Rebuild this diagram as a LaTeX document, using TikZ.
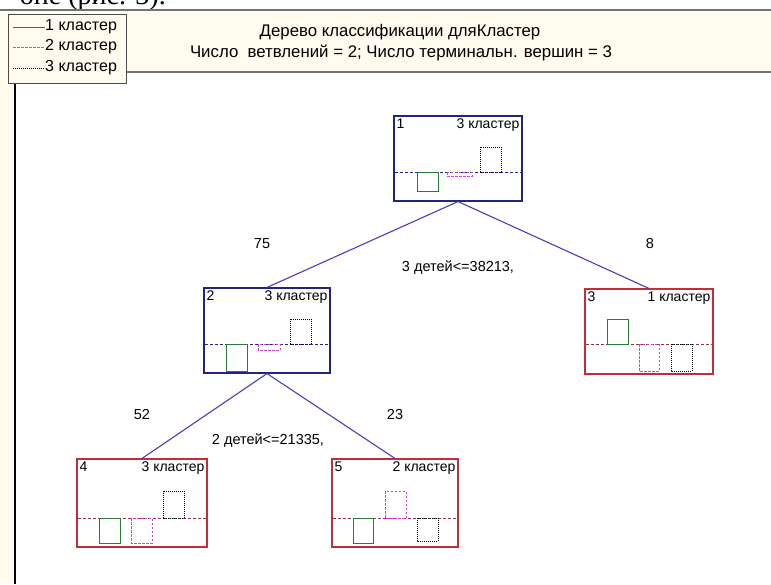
\documentclass[tikz,border=0pt]{standalone}
\usepackage{fontspec}
\setmainfont{Liberation Sans}
\newfontfamily\serifcyr{Liberation Serif}
\definecolor{navy}{RGB}{35,35,130}
\definecolor{dred}{RGB}{195,45,55}
\definecolor{dashred}{RGB}{150,50,70}
\definecolor{edgec}{RGB}{70,65,190}
\definecolor{grn}{RGB}{40,125,50}
\definecolor{mag}{RGB}{205,70,205}
\definecolor{cream}{RGB}{255,251,239}
\definecolor{hgray}{RGB}{115,115,115}
\tikzset{
  treebox/.style={draw, line width=1.1pt, minimum width=128pt, minimum height=85pt, inner sep=0pt},
  edgeline/.style={draw=edgec, line width=1.1pt},
  nodetxt/.style={font=\fontsize{14}{16}\selectfont, inner sep=3pt},
  lbl/.style={font=\fontsize{14.5}{16}\selectfont, inner sep=0pt},
  legtxt/.style={anchor=west, inner sep=0pt, font=\fontsize{16}{18}\selectfont},
  headtxt/.style={inner sep=0pt, font=\fontsize{16.8}{19}\selectfont},
  g1/.style={draw=grn, line width=0.9pt},
  g2/.style={draw=mag, line width=0.9pt, dash pattern=on 2.5pt off 1.5pt},
  g3/.style={draw=black, line width=0.9pt, dash pattern=on 1pt off 1pt},
  midblue/.style={draw=navy, line width=0.9pt, dash pattern=on 3pt off 2pt},
  midred/.style={draw=dashred, line width=0.9pt, dash pattern=on 3pt off 2pt},
}
\begin{document}
\begin{tikzpicture}[x=1pt,y=-1pt]
\useasboundingbox (0,0) rectangle (771,584);
\begin{scope}
\clip (0,0) rectangle (771,584);
\fill[white] (0,0) rectangle (771,584);
\node[anchor=base east, inner sep=0pt, font=\serifcyr\fontsize{28}{30}\selectfont] (frag) at (166,4) {оне (рис. 3).};
\fill[cream] (0,10) rectangle (771,72);
\fill[cream] (0,72) rectangle (15,584);
\draw[hgray, line width=2pt] (0,9.5) -- (771,9.5);
\draw[hgray, line width=2pt] (126,72) -- (771,72);
\draw[black, line width=1.5pt] (15,83) -- (15,584);
\end{scope}

% legend
\node[draw=black!70, line width=0.8pt, fill=cream, minimum width=118pt, minimum height=69pt, inner sep=0pt] (leg) at (67,48.5) {};
\coordinate (l1a) at (13,27); \coordinate (l1b) at (45,27);
\coordinate (l2a) at (13,47); \coordinate (l2b) at (45,47);
\coordinate (l3a) at (13,68); \coordinate (l3b) at (45,68);
\draw[g1] (l1a) -- (l1b);
\draw[g2] (l2a) -- (l2b);
\draw[g3] (l3a) -- (l3b);
\node[legtxt] (lt1) at (l1b) {1 кластер};
\node[legtxt] (lt2) at (l2b) {2 кластер};
\node[legtxt] (lt3) at (l3b) {3 кластер};

% header
\node[headtxt] (h1) at (400,32) {Дерево классификации дляКластер};
\node[headtxt] (h2) at (401,53) {Число\ \ ветвлений = 2; Число терминальн. вершин = 3};

% tree nodes
\node[treebox, draw=navy] (n1) at (458,158.5) {};
\node[treebox, draw=navy, minimum width=126pt] (n2) at (267,330.5) {};
\node[treebox, draw=dred] (n3) at (649,331.5) {};
\node[treebox, draw=dred, minimum width=130pt, minimum height=88pt] (n4) at (142,503) {};
\node[treebox, draw=dred, minimum width=126pt, minimum height=88pt] (n5) at (395,503) {};

% edges
\draw[edgeline] (n1.south) -- (n2.north);
\draw[edgeline] (n1.south) -- (n3.north);
\draw[edgeline] (n2.south) -- (n4.north);
\draw[edgeline] (n2.south) -- (n5.north);

% node texts
\node[nodetxt, anchor=north west] (t1a) at (n1.north west) {1};
\node[nodetxt, anchor=north east] (t1b) at (n1.north east) {3 кластер};
\node[nodetxt, anchor=north west] (t2a) at (n2.north west) {2};
\node[nodetxt, anchor=north east] (t2b) at (n2.north east) {3 кластер};
\node[nodetxt, anchor=north west] (t3a) at (n3.north west) {3};
\node[nodetxt, anchor=north east] (t3b) at (n3.north east) {1 кластер};
\node[nodetxt, anchor=north west] (t4a) at (n4.north west) {4};
\node[nodetxt, anchor=north east] (t4b) at (n4.north east) {3 кластер};
\node[nodetxt, anchor=north west] (t5a) at (n5.north west) {5};
\node[nodetxt, anchor=north east] (t5b) at (n5.north east) {2 кластер};

% node 1 contents
\draw[midblue] (395,172) -- (521,172);
\draw[g1] (417,172) rectangle (438,191);
\draw[g2] (447,172) rectangle (472,176);
\draw[g3] (480,147) rectangle (501,172);
% node 2 contents
\draw[midblue] (205,344) -- (329,344);
\draw[g1] (226,344) rectangle (247,371);
\draw[g2] (258,344) rectangle (280,350);
\draw[g3] (290,319) rectangle (311,344);
% node 3 contents
\draw[midred] (586,344) -- (712,344);
\draw[g1] (607,319) rectangle (628,344);
\draw[g2] (639,344) rectangle (659,371);
\draw[g3] (671,344) rectangle (692,371);
% node 4 contents
\draw[midred] (78,518) -- (206,518);
\draw[g1] (99,518) rectangle (120,543);
\draw[g2] (131,518) rectangle (152,543);
\draw[g3] (163,491) rectangle (184,518);
% node 5 contents
\draw[midred] (333,518) -- (457,518);
\draw[g1] (353,518) rectangle (373,543);
\draw[g2] (385,491) rectangle (406,518);
\draw[g3] (417,518) rectangle (438,541);

% edge labels
\node[lbl] (e75) at (262,244) {75};
\node[lbl] (e8) at (650,244) {8};
\node[lbl] (s1) at (458,268) {3 детей<=38213,};
\node[lbl] (e52) at (142,415) {52};
\node[lbl] (e23) at (395,415) {23};
\node[lbl] (s2) at (268,441) {2 детей<=21335,};
\end{tikzpicture}
\end{document}
